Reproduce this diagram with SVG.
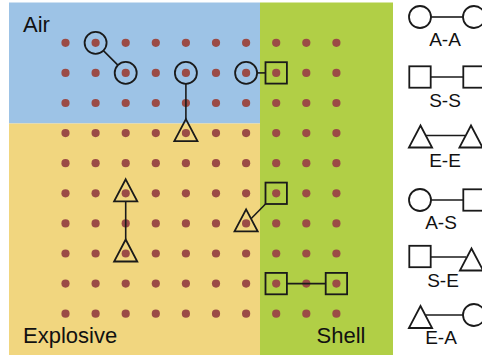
<svg xmlns="http://www.w3.org/2000/svg" width="482" height="358" viewBox="0 0 482 358">
  <style>
    .dot { fill: #9b4b46; }
    .shape { fill: none; stroke: #1a1a1a; stroke-width: 1.8; }
    .link { stroke: #1a1a1a; stroke-width: 1.6; fill: none; }
    .region { font-family: "Liberation Sans", Arial, sans-serif; font-size: 22px; fill: #111; }
    .key { font-family: "Liberation Sans", Arial, sans-serif; font-size: 19px; fill: #111; text-anchor: middle; }
  </style>
  <defs>
    <circle id="dot" r="4.1" class="dot"/>
    <circle id="atom-a" r="11" class="shape"/>
    <rect id="atom-s" x="-10.7" y="-10.7" width="21.4" height="21.4" class="shape"/>
    <polygon id="atom-e" points="0,-14 11.6,8 -11.6,8" class="shape"/>
  </defs>

  <rect width="482" height="358" fill="#ffffff"/>

  <!-- material regions -->
  <g id="regions">
    <rect x="9" y="2.5" width="251" height="121" fill="#9dc3e6"/>
    <rect x="9" y="123.5" width="251" height="231.5" fill="#f1d67f"/>
    <rect x="260" y="2.5" width="133" height="352.5" fill="#b1cf46"/>
  </g>

  <!-- lattice sites: 10 x 10, pitch 30.1 -->
  <g id="lattice">
    <g transform="translate(0,42.8)">
      <use href="#dot" x="65.5"/><use href="#dot" x="95.6"/><use href="#dot" x="125.7"/><use href="#dot" x="155.8"/><use href="#dot" x="185.9"/><use href="#dot" x="216"/><use href="#dot" x="246.1"/><use href="#dot" x="276.2"/><use href="#dot" x="306.3"/><use href="#dot" x="336.4"/>
    </g>
    <g transform="translate(0,72.9)">
      <use href="#dot" x="65.5"/><use href="#dot" x="95.6"/><use href="#dot" x="125.7"/><use href="#dot" x="155.8"/><use href="#dot" x="185.9"/><use href="#dot" x="216"/><use href="#dot" x="246.1"/><use href="#dot" x="276.2"/><use href="#dot" x="306.3"/><use href="#dot" x="336.4"/>
    </g>
    <g transform="translate(0,103)">
      <use href="#dot" x="65.5"/><use href="#dot" x="95.6"/><use href="#dot" x="125.7"/><use href="#dot" x="155.8"/><use href="#dot" x="185.9"/><use href="#dot" x="216"/><use href="#dot" x="246.1"/><use href="#dot" x="276.2"/><use href="#dot" x="306.3"/><use href="#dot" x="336.4"/>
    </g>
    <g transform="translate(0,133.1)">
      <use href="#dot" x="65.5"/><use href="#dot" x="95.6"/><use href="#dot" x="125.7"/><use href="#dot" x="155.8"/><use href="#dot" x="185.9"/><use href="#dot" x="216"/><use href="#dot" x="246.1"/><use href="#dot" x="276.2"/><use href="#dot" x="306.3"/><use href="#dot" x="336.4"/>
    </g>
    <g transform="translate(0,163.2)">
      <use href="#dot" x="65.5"/><use href="#dot" x="95.6"/><use href="#dot" x="125.7"/><use href="#dot" x="155.8"/><use href="#dot" x="185.9"/><use href="#dot" x="216"/><use href="#dot" x="246.1"/><use href="#dot" x="276.2"/><use href="#dot" x="306.3"/><use href="#dot" x="336.4"/>
    </g>
    <g transform="translate(0,193.3)">
      <use href="#dot" x="65.5"/><use href="#dot" x="95.6"/><use href="#dot" x="125.7"/><use href="#dot" x="155.8"/><use href="#dot" x="185.9"/><use href="#dot" x="216"/><use href="#dot" x="246.1"/><use href="#dot" x="276.2"/><use href="#dot" x="306.3"/><use href="#dot" x="336.4"/>
    </g>
    <g transform="translate(0,223.4)">
      <use href="#dot" x="65.5"/><use href="#dot" x="95.6"/><use href="#dot" x="125.7"/><use href="#dot" x="155.8"/><use href="#dot" x="185.9"/><use href="#dot" x="216"/><use href="#dot" x="246.1"/><use href="#dot" x="276.2"/><use href="#dot" x="306.3"/><use href="#dot" x="336.4"/>
    </g>
    <g transform="translate(0,253.5)">
      <use href="#dot" x="65.5"/><use href="#dot" x="95.6"/><use href="#dot" x="125.7"/><use href="#dot" x="155.8"/><use href="#dot" x="185.9"/><use href="#dot" x="216"/><use href="#dot" x="246.1"/><use href="#dot" x="276.2"/><use href="#dot" x="306.3"/><use href="#dot" x="336.4"/>
    </g>
    <g transform="translate(0,283.6)">
      <use href="#dot" x="65.5"/><use href="#dot" x="95.6"/><use href="#dot" x="125.7"/><use href="#dot" x="155.8"/><use href="#dot" x="185.9"/><use href="#dot" x="216"/><use href="#dot" x="246.1"/><use href="#dot" x="276.2"/><use href="#dot" x="306.3"/><use href="#dot" x="336.4"/>
    </g>
    <g transform="translate(0,313.7)">
      <use href="#dot" x="65.5"/><use href="#dot" x="95.6"/><use href="#dot" x="125.7"/><use href="#dot" x="155.8"/><use href="#dot" x="185.9"/><use href="#dot" x="216"/><use href="#dot" x="246.1"/><use href="#dot" x="276.2"/><use href="#dot" x="306.3"/><use href="#dot" x="336.4"/>
    </g>
  </g>

  <!-- region names -->
  <g id="region-labels">
    <text class="region" x="23" y="31.5">Air</text>
    <text class="region" x="23" y="343">Explosive</text>
    <text class="region" x="316.5" y="343">Shell</text>
  </g>

  <!-- bonds between marked sites -->
  <g id="connectors">
    <line class="link" x1="103.4" y1="50.6" x2="117.9" y2="65.1"/>
    <line class="link" x1="185.9" y1="83.9" x2="185.9" y2="119.1"/>
    <line class="link" x1="257.1" y1="72.9" x2="265.5" y2="72.9"/>
    <line class="link" x1="125.7" y1="201.3" x2="125.7" y2="239.5"/>
    <line class="link" x1="265.5" y1="204" x2="251" y2="218.7"/>
    <line class="link" x1="286.9" y1="283.6" x2="325.7" y2="283.6"/>
  </g>

  <!-- marked sites -->
  <g id="a1"><use href="#atom-a" x="95.6" y="42.8"/></g>
  <g id="a2"><use href="#atom-a" x="125.7" y="72.9"/></g>
  <g id="a3"><use href="#atom-a" x="185.9" y="72.9"/></g>
  <g id="a4"><use href="#atom-a" x="246.1" y="72.9"/></g>
  <g id="s1"><use href="#atom-s" x="276.2" y="72.9"/></g>
  <g id="e1"><use href="#atom-e" x="185.9" y="133.1"/></g>
  <g id="e2"><use href="#atom-e" x="125.7" y="193.3"/></g>
  <g id="e3"><use href="#atom-e" x="125.7" y="253.5"/></g>
  <g id="s2"><use href="#atom-s" x="276.2" y="193.3"/></g>
  <g id="e4"><use href="#atom-e" x="246.1" y="223.4"/></g>
  <g id="s3"><use href="#atom-s" x="276.2" y="283.6"/></g>
  <g id="s4"><use href="#atom-s" x="336.4" y="283.6"/></g>

  <!-- pair-type key -->
  <g id="key">
    <g id="key-aa">
      <line class="link" x1="431" y1="17" x2="463" y2="17"/>
      <use href="#atom-a" x="420" y="17"/>
      <use href="#atom-a" x="474" y="17"/>
      <text class="key" x="445" y="46">A-A</text>
    </g>
    <g id="key-ss">
      <line class="link" x1="430.7" y1="77" x2="463.3" y2="77"/>
      <use href="#atom-s" x="420" y="77"/>
      <use href="#atom-s" x="474" y="77"/>
      <text class="key" x="445" y="106.5">S-S</text>
    </g>
    <g id="key-ee">
      <line class="link" x1="426" y1="135.5" x2="465" y2="135.5"/>
      <use href="#atom-e" x="420.5" y="139.5"/>
      <use href="#atom-e" x="471" y="139.5"/>
      <text class="key" x="445" y="166.5">E-E</text>
    </g>
    <g id="key-as">
      <line class="link" x1="431" y1="200" x2="463.3" y2="200"/>
      <use href="#atom-a" x="420" y="200"/>
      <use href="#atom-s" x="474" y="200"/>
      <text class="key" x="441" y="229">A-S</text>
    </g>
    <g id="key-se">
      <line class="link" x1="430.7" y1="257" x2="466" y2="257"/>
      <use href="#atom-s" x="420" y="256.5"/>
      <use href="#atom-e" x="471.5" y="262.5"/>
      <text class="key" x="443" y="287">S-E</text>
    </g>
    <g id="key-ea">
      <line class="link" x1="426" y1="315" x2="463" y2="315"/>
      <use href="#atom-e" x="420.5" y="320"/>
      <use href="#atom-a" x="474" y="315"/>
      <text class="key" x="441" y="344">E-A</text>
    </g>
  </g>
</svg>
